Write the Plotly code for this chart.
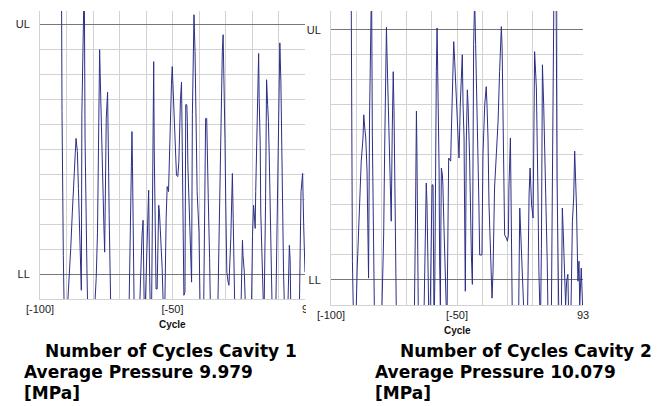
import plotly.graph_objects as go

# ---------------- data ----------------
LL_VALUE = 8.0
UL_VALUE = 12.0
x_tick_vals = [-100, -50, 0]
x_tick_text_1 = ["[-100]", "[-50]", "\u00a0\u00a093"]
x_tick_text_2 = ["[-100]", "[-50]", "93"]
y_tick_vals = [LL_VALUE, UL_VALUE]
y_tick_text = ["LL", "UL"]

cav1_cycle = [
    -91.9, -91.7, -91.2, -90.8,
    -90.0, -89.0, -88.4, -87.8, -87.1, -86.7, -86.4, -85.9, -85.5, -85.1, -84.6, -84.4,
    -84.2, -83.6, -83.3, -83.0, -82.6, -82.3, -81.9,
    -80.0, -79.2, -78.8, -78.3, -77.9, -77.7, -77.5, -77.3, -76.9, -76.6, -76.4, -75.9, -75.6,
    -75.0, -74.5, -74.4, -74.1, -73.9, -73.6, -73.2,
    -66.5, -65.6, -65.3, -65.1, -64.9, -64.4,
    -62.6, -62.0, -61.5, -61.1, -60.9, -60.6,
    -60.2, -59.8, -59.3, -59.0, -58.7, -58.3,
    -57.9, -57.5, -57.3, -57.1, -56.9, -56.7, -56.2,
    -55.8, -55.4, -55.2, -54.9, -54.4, -53.9, -53.3,
    -53.0, -52.4, -52.0, -51.5, -51.0, -50.4, -50.1, -49.7, -49.2, -48.9, -48.5, -48.0,
    -47.6, -47.0, -46.6, -46.3, -46.0, -45.7, -45.3,
    -45.0, -44.6, -44.4, -44.2, -43.8, -43.2, -42.8,
    -42.5, -42.2, -41.9, -41.5, -41.2, -40.9, -40.7, -40.0, -39.5,
    -38.3, -37.9, -37.5, -37.1, -36.9, -36.5, -36.0, -35.6,
    -33.0, -32.4, -32.1, -31.6, -31.2, -30.9, -30.6, -30.2, -29.9, -29.5, -29.0, -28.7,
    -28.0, -27.7, -27.4, -27.1, -26.8, -26.4,
    -24.3, -23.6, -23.4, -22.9, -22.3,
    -20.3, -19.8, -19.4, -19.2, -18.8, -18.6, -18.3, -17.9, -17.5, -17.3, -16.9, -16.7, -16.3, -16.0,
    -15.5, -14.9, -14.5, -14.1, -13.8, -13.5, -13.1, -12.6, -12.3,
    -11.1, -10.4, -10.0, -9.7, -9.5, -9.1, -8.8, -8.5, -8.1, -7.6,
    -6.6, -5.9, -5.6, -5.3,
    -2.2, -1.5, -0.9, -0.5, 0.0,
]
cav1_pressure = [
    12.80, 10.60, 8.30, 7.20,
    7.20, 7.87, 8.41, 8.99, 9.48, 9.93, 10.17, 9.96, 9.37, 8.67, 8.09, 7.74,
    10.55, 12.80, 12.80, 10.17, 8.60, 8.09, 7.20,
    7.20, 7.60, 7.93, 8.67, 9.85, 11.03, 11.59, 11.21, 10.49, 9.85, 9.21, 8.78, 8.35,
    10.49, 10.91, 10.22, 9.64, 8.94, 8.19, 7.20,
    7.20, 9.72, 10.28, 9.72, 8.67, 7.20,
    7.20, 8.19, 8.62, 8.86, 8.40, 7.20,
    7.60, 8.19, 8.94, 9.34, 8.19, 7.20,
    7.40, 9.21, 10.65, 11.40, 10.00, 9.21, 7.76,
    7.76, 8.60, 9.10, 8.97, 8.62, 8.09, 7.20,
    7.20, 8.89, 9.40, 9.32, 10.28, 11.03, 11.32, 10.87, 10.28, 9.80, 9.58, 9.56,
    9.80, 10.79, 11.07, 9.96, 8.89, 7.66, 7.71,
    10.71, 10.71, 10.44, 9.74, 9.10, 8.46, 7.87,
    10.55, 11.29, 12.15, 11.56, 10.71, 10.06, 9.32, 8.67, 7.20,
    7.20, 8.57, 10.49, 10.49, 10.17, 9.21, 8.25, 7.20,
    7.20, 8.78, 9.85, 10.97, 11.56, 11.83, 11.24, 10.17, 9.10, 8.03, 7.87, 7.82,
    8.57, 9.32, 9.61, 8.89, 8.03, 7.20,
    7.20, 8.54, 8.30, 8.03, 7.20,
    7.20, 8.62, 9.10, 8.99, 8.73, 9.32, 10.06, 11.03, 11.53, 10.81, 10.06, 8.99, 8.03, 7.20,
    7.20, 9.10, 11.11, 10.71, 10.44, 9.90, 9.10, 8.30, 7.20,
    7.20, 9.10, 10.17, 10.92, 11.70, 11.08, 9.96, 8.78, 8.03, 7.20,
    7.20, 8.46, 8.22, 7.20,
    7.20, 9.32, 9.61, 8.78, 8.03,
]

cav2_cycle = [
    -92.0, -91.9, -91.5, -91.0,
    -90.2, -89.6, -89.0, -88.4, -88.0, -87.3, -87.0, -86.6, -86.2, -85.7, -85.3, -85.1,
    -84.7, -84.3, -83.9, -83.6, -83.3, -83.1, -82.7,
    -80.0, -79.1, -78.7, -78.3, -78.0, -77.8, -77.4, -77.0, -76.7, -76.3, -76.1,
    -75.7, -75.3, -75.0, -74.7, -74.5, -74.0,
    -67.0, -66.5, -66.1, -65.9, -65.7, -65.3,
    -63.2, -62.8, -62.4, -62.2, -61.9, -61.5, -61.1,
    -60.6, -60.2, -59.9, -59.5, -59.1,
    -58.8, -58.6, -58.2, -57.9, -57.5, -57.1, -56.9, -56.6,
    -56.4, -56.2, -55.8, -55.6, -55.2, -54.9, -54.5,
    -54.0, -53.3, -52.5, -52.3, -51.9, -51.3, -50.9, -50.5, -50.0, -49.6, -49.2,
    -48.7, -48.3, -47.9, -47.6, -47.2, -47.0, -46.7,
    -46.3, -45.9, -45.6, -45.0, -44.3, -43.9,
    -43.4, -43.0, -42.6, -42.1, -41.7, -41.3, -41.0, -40.1,
    -39.7, -39.0, -38.4, -38.1, -37.7, -37.3, -36.8, -36.4, -36.1,
    -35.7, -35.5, -35.1, -34.4, -33.7, -33.1, -32.7, -32.4, -32.1, -31.7, -31.5, -31.1, -30.4, -30.0,
    -29.6, -29.4, -28.8, -28.7, -28.4, -28.0,
    -26.0, -25.5, -25.1, -24.7, -24.5, -23.8, -23.2,
    -22.1, -21.8, -21.4, -21.0, -20.8, -20.4, -19.8,
    -19.4, -19.2, -18.5, -18.1, -17.9, -17.5, -16.9,
    -16.5, -16.1, -15.6, -15.2, -14.5, -14.2, -13.8,
    -12.6, -11.9, -11.5, -10.7, -10.6, -10.3, -9.9, -9.5,
    -8.6, -8.2, -7.8, -7.3, -6.9, -6.5, -6.0, -5.6,
    -4.9, -4.2, -3.7, -3.3, -2.9, -2.6, -2.2, -2.0, -1.6, -1.3, -0.7, 0.0,
]
cav2_pressure = [
    12.80, 10.75, 8.30, 7.20,
    7.20, 8.19, 8.78, 9.36, 9.90, 10.27, 10.64, 10.43, 10.27, 9.74, 8.88, 8.03,
    10.62, 12.80, 12.80, 10.32, 9.20, 8.14, 7.20,
    7.20, 8.72, 10.11, 11.39, 12.04, 11.65, 10.96, 10.22, 9.74, 9.31, 8.94,
    10.38, 11.33, 10.70, 10.00, 8.99, 7.20,
    7.20, 8.88, 10.70, 10.06, 8.88, 7.20,
    7.20, 8.35, 9.31, 9.55, 9.20, 8.30, 7.20,
    7.60, 8.51, 9.52, 9.52, 7.20,
    8.00, 10.00, 11.33, 12.03, 11.17, 9.74, 8.30, 7.60,
    8.80, 9.79, 9.68, 9.52, 8.88, 8.25, 7.20,
    7.20, 9.95, 9.90, 10.27, 11.07, 11.81, 11.49, 11.12, 10.80, 10.27, 9.95,
    10.80, 11.31, 11.60, 10.80, 10.27, 9.20, 7.82,
    10.22, 11.04, 10.80, 9.95, 8.40, 7.93,
    11.76, 12.50, 11.76, 11.01, 10.00, 9.20, 8.40, 8.40,
    10.00, 10.80, 11.09, 10.80, 10.27, 9.20, 8.40, 7.82, 7.71,
    8.14, 8.67, 9.47, 10.00, 10.54, 11.33, 11.71, 12.05, 11.71, 10.64, 9.47, 8.72, 8.67, 8.62,
    8.72, 9.47, 10.27, 9.74, 8.67, 7.20,
    7.20, 7.60, 9.15, 8.78, 8.40, 7.80, 7.20,
    7.20, 8.46, 9.36, 9.79, 9.52, 9.20, 8.99,
    10.38, 11.65, 11.07, 10.27, 9.47, 8.14, 7.20,
    8.50, 11.44, 10.80, 10.00, 9.20, 8.30, 7.20,
    7.20, 10.80, 12.80, 12.80, 11.33, 9.63, 8.35, 7.20,
    7.40, 9.15, 8.72, 8.09, 7.60, 7.98, 8.09, 7.20,
    7.20, 8.94, 9.31, 10.06, 9.68, 9.20, 8.35, 7.98, 8.30, 7.60, 8.19, 7.40,
]

title_1 = ["Number of Cycles Cavity 1", "Average Pressure 9.979", "[MPa]"]
title_2 = ["Number of Cycles Cavity 2", "Average Pressure 10.079", "[MPa]"]
x_title = "Cycle"

assert len(cav1_cycle) == len(cav1_pressure)
assert len(cav2_cycle) == len(cav2_pressure)

# ---------------- style ----------------
W, H = 672, 406
LINE = "#2c2f86"
GRID = "#d2d2d2"
LIMIT = "#777777"
FONT = "Liberation Sans, Arial, sans-serif"
TITLE_FONT = "DejaVu Sans, Liberation Sans, sans-serif"


def px_x(p):
    return p / W


def px_y(p):
    return 1 - p / H


fig = go.Figure()
fig.add_trace(go.Scatter(x=cav1_cycle, y=cav1_pressure, mode="lines",
                         line=dict(color=LINE, width=1), xaxis="x", yaxis="y",
                         hoverinfo="skip"))
fig.add_trace(go.Scatter(x=cav2_cycle, y=cav2_pressure, mode="lines",
                         line=dict(color=LINE, width=1), xaxis="x2", yaxis="y2",
                         hoverinfo="skip"))


def xaxis(domain, ticktext, anchor):
    return dict(domain=domain, range=[-100, 0], anchor=anchor,
                tickmode="array", tickvals=x_tick_vals, ticktext=ticktext,
                showgrid=True, gridcolor=GRID, gridwidth=1,
                minor=dict(tickmode="linear", tick0=-100, dtick=10,
                           showgrid=True, gridcolor=GRID, gridwidth=1),
                zeroline=False, showline=True, linecolor=GRID, linewidth=1,
                ticks="", tickfont=dict(size=11, color="#222", family=FONT),
                automargin=False, fixedrange=True)


def yaxis(domain, top, anchor):
    return dict(domain=domain, range=[7.6, top], anchor=anchor,
                tickmode="array", tickvals=y_tick_vals, ticktext=y_tick_text,
                showgrid=True, gridcolor=LIMIT, gridwidth=1,
                minor=dict(tickmode="linear", tick0=7.6, dtick=0.4,
                           showgrid=True, gridcolor=GRID, gridwidth=1),
                zeroline=False, showline=True, linecolor=GRID, linewidth=1,
                ticks="", ticklabelstandoff=7,
                tickfont=dict(size=11, color="#222", family=FONT),
                automargin=False, fixedrange=True)


annotations = []
for lines, x1, xr in ((title_1, 43, 22), (title_2, 398, 373)):
    for i, (txt, ypx) in enumerate(zip(lines, [351, 372, 393])):
        annotations.append(dict(
            text=f"<b>{txt}</b>", x=px_x(x1 if i == 0 else xr), y=px_y(ypx),
            xref="paper", yref="paper", xanchor="left", yanchor="middle",
            showarrow=False, font=dict(size=17, color="#000", family=TITLE_FONT)))
for cx, cy in ((172, 324), (457, 330)):
    annotations.append(dict(
        text=f"<b>{x_title}</b>", x=px_x(cx), y=px_y(cy), xref="paper", yref="paper",
        xanchor="center", yanchor="middle", showarrow=False,
        font=dict(size=10, color="#111", family=FONT)))

fig.update_layout(
    width=W, height=H, margin=dict(l=0, r=0, t=0, b=0, pad=0, autoexpand=False),
    paper_bgcolor="white", plot_bgcolor="white", showlegend=False,
    xaxis=xaxis([px_x(40), px_x(305)], x_tick_text_1, "y"),
    yaxis=yaxis([px_y(299), px_y(11)], 12.21, "x"),
    xaxis2=xaxis([px_x(331), px_x(583)], x_tick_text_2, "y2"),
    yaxis2=yaxis([px_y(305), px_y(11)], 12.30, "x2"),
    annotations=annotations,
    shapes=[dict(type="rect", xref="paper", yref="paper",
                 x0=px_x(306), x1=px_x(317), y0=px_y(318), y1=px_y(300),
                 fillcolor="white", line=dict(width=0), layer="above")],
)

fig.write_html(
    "out.html",
    config={"responsive": False, "displayModeBar": False},
    post_script="document.body.style.margin='0';document.body.style.overflow='hidden';",
)
